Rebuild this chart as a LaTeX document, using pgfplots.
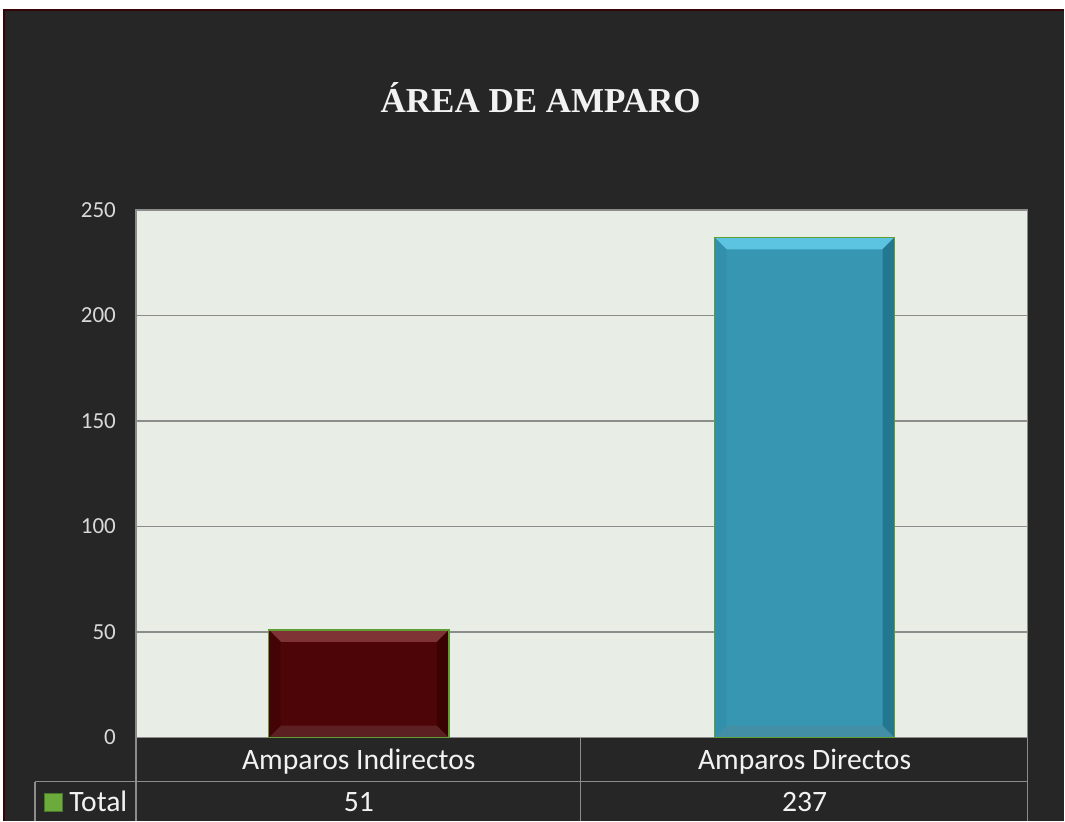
\documentclass[border=0pt]{standalone}
\usepackage{pgfplots}
\pgfplotsset{compat=1.18}
\usepackage{fontspec}
\setmainfont{Carlito}
\newfontfamily\titlefont{Liberation Serif}
\definecolor{bgdark}{HTML}{262626}
\definecolor{plotbg}{HTML}{E8EDE6}
\definecolor{gridgray}{HTML}{8C8C8C}
\definecolor{barred}{HTML}{4D0508}
\definecolor{redtop}{HTML}{7F3335}
\definecolor{redbot}{HTML}{5C2022}
\definecolor{redleft}{HTML}{440305}
\definecolor{redright}{HTML}{3B0203}
\definecolor{barblue}{HTML}{3797B2}
\definecolor{bluetop}{HTML}{5CC3E0}
\definecolor{bluebot}{HTML}{438FA5}
\definecolor{blueleft}{HTML}{3390AC}
\definecolor{blueright}{HTML}{237890}
\definecolor{baredge}{HTML}{5E9E34}
\definecolor{keygreen}{HTML}{6AAB3C}
\definecolor{txt}{HTML}{F2F2F2}
\definecolor{ticktxt}{HTML}{D9D9D9}
\begin{document}
\begin{tikzpicture}[x=0.5pt,y=0.5pt]
\fill[white] (0,0) rectangle (1065,821);
\fill[bgdark] (4,0) rectangle (1065,811);
\draw[color=barred!70!black, line width=0.6pt] (4,0) -- (4,811) -- (1065,811);
\node[text=txt, font=\titlefont\bfseries\fontsize{17.5pt}{20pt}\selectfont, anchor=base, inner sep=0pt] at (541,708) {ÁREA DE AMPARO};
\begin{axis}[
  at={(68pt,41.5pt)}, anchor=south west,
  scale only axis, width=446pt, height=264pt,
  axis background/.style={fill=plotbg},
  axis line style={draw=gridgray, line width=0.8pt},
  xmin=-0.5, xmax=1.5, ymin=0, ymax=250,
  ytick={0,50,100,150,200,250},
  xtick={0,1}, xticklabels={Amparos Indirectos, Amparos Directos},
  major tick length=0pt,
  ymajorgrids, grid style={draw=gridgray, line width=0.8pt},
  yticklabel style={text=ticktxt, font=\fontsize{11.5pt}{13pt}\selectfont, xshift=-6.5pt},
  xticklabel style={text=txt, font=\fontsize{14.8pt}{17pt}\selectfont, anchor=base, yshift=-16pt},
  /pgf/number format/assume math mode=true,
  clip=false,
]
% bars
\addplot[ybar, bar width=0.404, bar shift=0pt, fill=barred, draw=none] coordinates {(0,51)};
\addplot[ybar, bar width=0.404, bar shift=0pt, fill=barblue, draw=none] coordinates {(1,237)};
% bevels, bar 1
\addplot[fill=redtop, draw=none, forget plot] coordinates {(-0.202,51) (0.202,51) (0.175,45.3) (-0.175,45.3)} --cycle;
\addplot[fill=redbot, draw=none, forget plot] coordinates {(-0.202,0) (0.202,0) (0.175,5.7) (-0.175,5.7)} --cycle;
\addplot[fill=redleft, draw=none, forget plot] coordinates {(-0.202,0) (-0.175,5.7) (-0.175,45.3) (-0.202,51)} --cycle;
\addplot[fill=redright, draw=none, forget plot] coordinates {(0.202,0) (0.175,5.7) (0.175,45.3) (0.202,51)} --cycle;
% bevels, bar 2
\addplot[fill=bluetop, draw=none, forget plot] coordinates {(0.798,237) (1.202,237) (1.175,231.3) (0.825,231.3)} --cycle;
\addplot[fill=bluebot, draw=none, forget plot] coordinates {(0.798,0) (1.202,0) (1.175,5.7) (0.825,5.7)} --cycle;
\addplot[fill=blueleft, draw=none, forget plot] coordinates {(0.798,0) (0.825,5.7) (0.825,231.3) (0.798,237)} --cycle;
\addplot[fill=blueright, draw=none, forget plot] coordinates {(1.202,0) (1.175,5.7) (1.175,231.3) (1.202,237)} --cycle;
% outlines
\addplot[ybar, bar width=0.404, bar shift=0pt, fill=none, draw=baredge, line width=0.7pt, forget plot] coordinates {(0,51)};
\addplot[ybar, bar width=0.404, bar shift=0pt, fill=none, draw=baredge, line width=0.7pt, forget plot] coordinates {(1,237)};
\node[text=txt, font=\fontsize{14.8pt}{17pt}\selectfont, anchor=base] at (axis cs:0,0) [yshift=-37pt] {51};
\node[text=txt, font=\fontsize{14.8pt}{17pt}\selectfont, anchor=base] at (axis cs:1,0) [yshift=-37pt] {237};
\end{axis}
% data table grid
\draw[gridgray, line width=0.8pt] (136,83) -- (136,0);
\draw[gridgray, line width=0.8pt] (581,83) -- (581,0);
\draw[gridgray, line width=0.8pt] (1028,83) -- (1028,0);
\draw[gridgray, line width=0.8pt] (35,39) -- (1028,39);
\draw[gridgray, line width=0.8pt] (35,39) -- (35,0);
\fill[keygreen] (44,9) rectangle (62,27);
\draw[keygreen!70!black, line width=0.4pt] (44,9) rectangle (62,27);
\node[text=txt, font=\fontsize{14.8pt}{17pt}\selectfont, anchor=base west, inner sep=0pt] at (69,9) {Total};
\end{tikzpicture}
\end{document}
